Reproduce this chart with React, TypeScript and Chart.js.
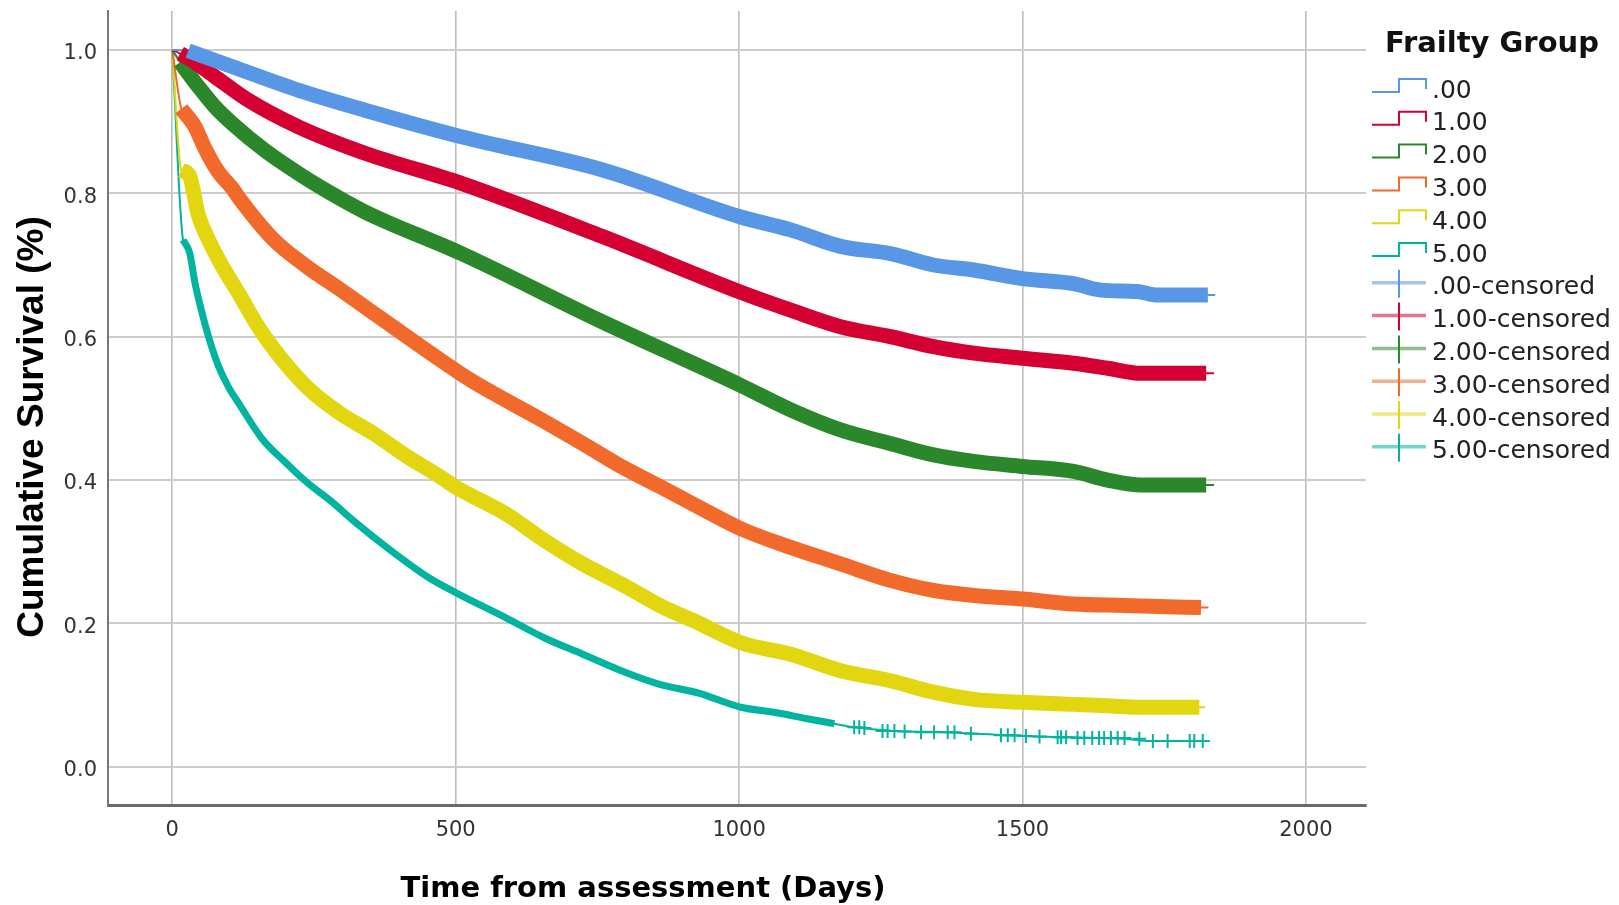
import React, { useEffect, useRef } from "react";
import { Chart, registerables } from "chart.js";

Chart.register(...registerables);

// ---------- data ----------
const groupLabels = [".00", "1.00", "2.00", "3.00", "4.00", "5.00"];
const censoredLabels = [".00-censored", "1.00-censored", "2.00-censored", "3.00-censored", "4.00-censored", "5.00-censored"];
const legendTitle = "Frailty Group";
const xTitle = "Time from assessment (Days)";
const yTitle = "Cumulative Survival (%)";
const xTickValues = [0, 500, 1000, 1500, 2000];
const yTickValues = [0, 0.2, 0.4, 0.6, 0.8, 1.0];

const days0 = [0, 28, 105, 222, 340, 510, 758, 1003, 1091, 1179, 1267, 1343, 1414, 1500, 1590, 1638, 1703, 1738, 1827, 1840];
const surv0 = [1.0, 0.999, 0.977, 0.944, 0.916, 0.879, 0.833, 0.767, 0.749, 0.726, 0.716, 0.700, 0.693, 0.681, 0.674, 0.665, 0.663, 0.658, 0.658, 0.658];

const days1 = [0, 14, 34, 75, 134, 222, 340, 510, 758, 1003, 1091, 1179, 1267, 1343, 1414, 1500, 1590, 1650, 1709, 1824, 1838];
const surv1 = [1.0, 0.995, 0.986, 0.963, 0.930, 0.893, 0.856, 0.814, 0.740, 0.662, 0.637, 0.614, 0.600, 0.586, 0.577, 0.570, 0.563, 0.556, 0.549, 0.549, 0.549];

const days2 = [0, 14, 22, 46, 75, 105, 163, 222, 267, 340, 510, 758, 1003, 1091, 1179, 1267, 1343, 1414, 1500, 1590, 1650, 1709, 1824, 1838];
const surv2 = [1.0, 0.983, 0.974, 0.949, 0.921, 0.898, 0.860, 0.828, 0.806, 0.774, 0.716, 0.621, 0.532, 0.498, 0.470, 0.451, 0.435, 0.426, 0.419, 0.412, 0.400, 0.393, 0.393, 0.393];

const days3 = [0, 16, 40, 58, 81, 105, 119, 178, 237, 296, 355, 414, 472, 525, 656, 724, 792, 860, 927, 1003, 1091, 1179, 1267, 1343, 1414, 1500, 1590, 1679, 1815, 1828];
const surv3 = [1.0, 0.918, 0.893, 0.862, 0.830, 0.808, 0.792, 0.736, 0.698, 0.666, 0.633, 0.600, 0.568, 0.540, 0.482, 0.451, 0.419, 0.391, 0.363, 0.332, 0.306, 0.283, 0.260, 0.246, 0.239, 0.234, 0.227, 0.225, 0.222, 0.222];

const days4 = [0, 16, 30, 46, 64, 87, 119, 149, 178, 237, 296, 355, 414, 472, 500, 588, 656, 724, 792, 860, 927, 1003, 1091, 1179, 1267, 1343, 1414, 1500, 1590, 1650, 1709, 1812, 1822];
const surv4 = [1.0, 0.832, 0.825, 0.770, 0.735, 0.700, 0.658, 0.617, 0.584, 0.530, 0.493, 0.465, 0.433, 0.405, 0.390, 0.353, 0.316, 0.283, 0.255, 0.225, 0.201, 0.173, 0.157, 0.134, 0.120, 0.104, 0.094, 0.090, 0.087, 0.085, 0.083, 0.083, 0.083];

const days5 = [0, 19, 31, 40, 52, 64, 81, 99, 119, 158, 199, 237, 281, 317, 385, 452, 500, 588, 656, 724, 792, 860, 927, 1003, 1062, 1120, 1168, 1203, 1273, 1362, 1421, 1500, 1590, 1679, 1720, 1818, 1830];
const surv5 = [1.0, 0.735, 0.716, 0.675, 0.635, 0.600, 0.560, 0.530, 0.505, 0.458, 0.425, 0.397, 0.370, 0.345, 0.302, 0.264, 0.243, 0.208, 0.180, 0.157, 0.134, 0.115, 0.103, 0.083, 0.076, 0.067, 0.060, 0.055, 0.050, 0.048, 0.046, 0.043, 0.041, 0.039, 0.036, 0.036, 0.036];

// sparse censored observations of group 5.00 (late follow-up)
const censorDays5 = [1203, 1212, 1221, 1253, 1262, 1274, 1292, 1321, 1344, 1368, 1380, 1409, 1462, 1474, 1486, 1506, 1530, 1562, 1568, 1577, 1597, 1609, 1623, 1635, 1644, 1656, 1668, 1680, 1706, 1730, 1756, 1795, 1803, 1818];
const censorSurv5 = [0.055, 0.055, 0.054, 0.050, 0.050, 0.050, 0.049, 0.048, 0.048, 0.048, 0.048, 0.046, 0.044, 0.044, 0.044, 0.043, 0.042, 0.041, 0.041, 0.041, 0.040, 0.040, 0.040, 0.040, 0.040, 0.040, 0.040, 0.040, 0.039, 0.036, 0.036, 0.036, 0.036, 0.036];

// ---------- style ----------
const colors = ["#5797E5", "#D50032", "#2A882A", "#F2692C", "#E2D611", "#00B4A0"];
const allDays = [days0, days1, days2, days3, days4, days5];
const allSurv = [surv0, surv1, surv2, surv3, surv4, surv5];
// range of points where censoring marks are dense (drawn as thick band)
const bandRange: [number, number][] = [
  [1, days0.length - 1],
  [1, days1.length - 1],
  [1, days2.length - 1],
  [1, days3.length - 1],
  [1, days4.length - 1],
  [1, 27],
];
const bandWidth = [15, 15, 15, 15, 15, 7];

const X_MIN = -113.4;
const X_MAX = 2106;
const Y_MIN = -0.0534;
const Y_MAX = 1.0544;

function pts(d: number[], s: number[]) {
  return d.map((x, i) => ({ x, y: s[i] }));
}

const overlayPlugin = {
  id: "overlayText",
  afterDraw(chart: any) {
    const ctx = chart.ctx as CanvasRenderingContext2D;
    ctx.save();
    // y axis title
    ctx.save();
    ctx.translate(43, 427);
    ctx.rotate(-Math.PI / 2);
    ctx.font = 'bold 37px "Liberation Sans", Arial, sans-serif';
    ctx.fillStyle = "#000";
    ctx.textAlign = "center";
    ctx.textBaseline = "alphabetic";
    ctx.fillText(yTitle, 0, 0);
    ctx.restore();

    // x axis title
    ctx.font = 'bold 29px "DejaVu Sans", sans-serif';
    ctx.fillStyle = "#000";
    ctx.textAlign = "center";
    ctx.textBaseline = "alphabetic";
    ctx.fillText(xTitle, 643, 897);

    // legend
    ctx.textAlign = "left";
    ctx.font = 'bold 29px "DejaVu Sans", sans-serif';
    ctx.fillStyle = "#111";
    ctx.fillText(legendTitle, 1385, 52);

    ctx.font = '25px "DejaVu Sans", sans-serif';
    const x0 = 1372, xm = 1399, x1 = 1426, tx = 1432;
    const labels = [...groupLabels, ...censoredLabels];
    labels.forEach((lab, i) => {
      const c = 89 + i * 32.8;
      const col = colors[i % 6];
      if (i < 6) {
        ctx.strokeStyle = col;
        ctx.lineWidth = 2;
        ctx.beginPath();
        ctx.moveTo(x0, c + 3);
        ctx.lineTo(xm, c + 3);
        ctx.lineTo(xm, c - 10);
        ctx.lineTo(x1, c - 10);
        ctx.lineTo(x1, c);
        ctx.stroke();
      } else {
        ctx.globalAlpha = 0.55;
        ctx.strokeStyle = col;
        ctx.lineWidth = 3.5;
        ctx.beginPath();
        ctx.moveTo(x0, c - 3);
        ctx.lineTo(x1, c - 3);
        ctx.stroke();
        ctx.globalAlpha = 1;
        ctx.lineWidth = 2;
        ctx.beginPath();
        ctx.moveTo(xm, c - 16);
        ctx.lineTo(xm, c + 12);
        ctx.stroke();
      }
      ctx.fillStyle = "#222";
      ctx.fillText(lab, tx, c + 8.5);
    });
    ctx.restore();
  },
};

export default function App() {
  const ref = useRef<HTMLCanvasElement>(null);

  useEffect(() => {
    const canvas = ref.current;
    if (!canvas) return;

    const datasets: any[] = [];
    for (let g = 0; g < 6; g++) {
      const data = pts(allDays[g], allSurv[g]);
      datasets.push({
        label: groupLabels[g],
        data,
        borderColor: colors[g],
        borderWidth: 2,
        pointRadius: 0,
        fill: false,
        cubicInterpolationMode: "monotone",
        order: 20 + g,
      });
      const [a, b] = bandRange[g];
      datasets.push({
        label: censoredLabels[g],
        data: data.slice(a, b),
        borderColor: colors[g],
        borderWidth: bandWidth[g],
        borderCapStyle: "butt",
        pointRadius: 0,
        fill: false,
        cubicInterpolationMode: "monotone",
        order: 10 + g,
      });
    }
    datasets.push({
      label: censoredLabels[5] + " (late)",
      data: pts(censorDays5, censorSurv5),
      showLine: false,
      pointStyle: "cross",
      pointRadius: 7,
      pointBorderWidth: 2,
      pointBorderColor: colors[5],
      pointBackgroundColor: colors[5],
      borderColor: colors[5],
      order: 0,
    });

    const chart = new Chart(canvas, {
      type: "line",
      data: { datasets },
      options: {
        animation: false,
        responsive: false,
        maintainAspectRatio: false,
        layout: { padding: { left: 0, top: 11, right: 253, bottom: 0 } },
        plugins: {
          legend: { display: false },
          tooltip: { enabled: false },
          title: { display: false },
        },
        scales: {
          x: {
            type: "linear",
            min: X_MIN,
            max: X_MAX,
            afterFit: (s: any) => {
              s.height = 100;
              s.paddingLeft = 0;
              s.paddingRight = 0;
              s.paddingTop = 0;
              s.paddingBottom = 0;
            },
            afterBuildTicks: (s: any) => {
              s.ticks = xTickValues.map((v) => ({ value: v }));
            },
            ticks: {
              font: { family: '"DejaVu Sans", sans-serif', size: 21 },
              color: "#333",
              padding: 13,
              maxRotation: 0,
              callback: (v: any) => String(v),
            },
            grid: { color: "#bdbdbd", lineWidth: 1.6, drawTicks: false },
            border: { display: true, color: "#6a6a6a", width: 3 },
          },
          y: {
            type: "linear",
            min: Y_MIN,
            max: Y_MAX,
            afterFit: (s: any) => {
              s.width = 108;
              s.paddingLeft = 0;
              s.paddingRight = 0;
              s.paddingTop = 0;
              s.paddingBottom = 0;
            },
            afterBuildTicks: (s: any) => {
              s.ticks = yTickValues.map((v) => ({ value: v }));
            },
            ticks: {
              font: { family: '"DejaVu Sans", sans-serif', size: 21 },
              color: "#333",
              padding: 11,
              labelOffset: 4,
              callback: (v: any) => Number(v).toFixed(1),
            },
            grid: { color: "#cccccc", lineWidth: 2, drawTicks: false },
            border: { display: true, color: "#777777", width: 2 },
          },
        },
      },
      plugins: [overlayPlugin],
    } as any);

    return () => chart.destroy();
  }, []);

  return (
    <div
      style={{
        position: "absolute",
        left: 0,
        top: 0,
        width: 1619,
        height: 905,
        background: "#fff",
        overflow: "hidden",
      }}
    >
      <canvas ref={ref} width={1619} height={905} style={{ display: "block" }} />
    </div>
  );
}
